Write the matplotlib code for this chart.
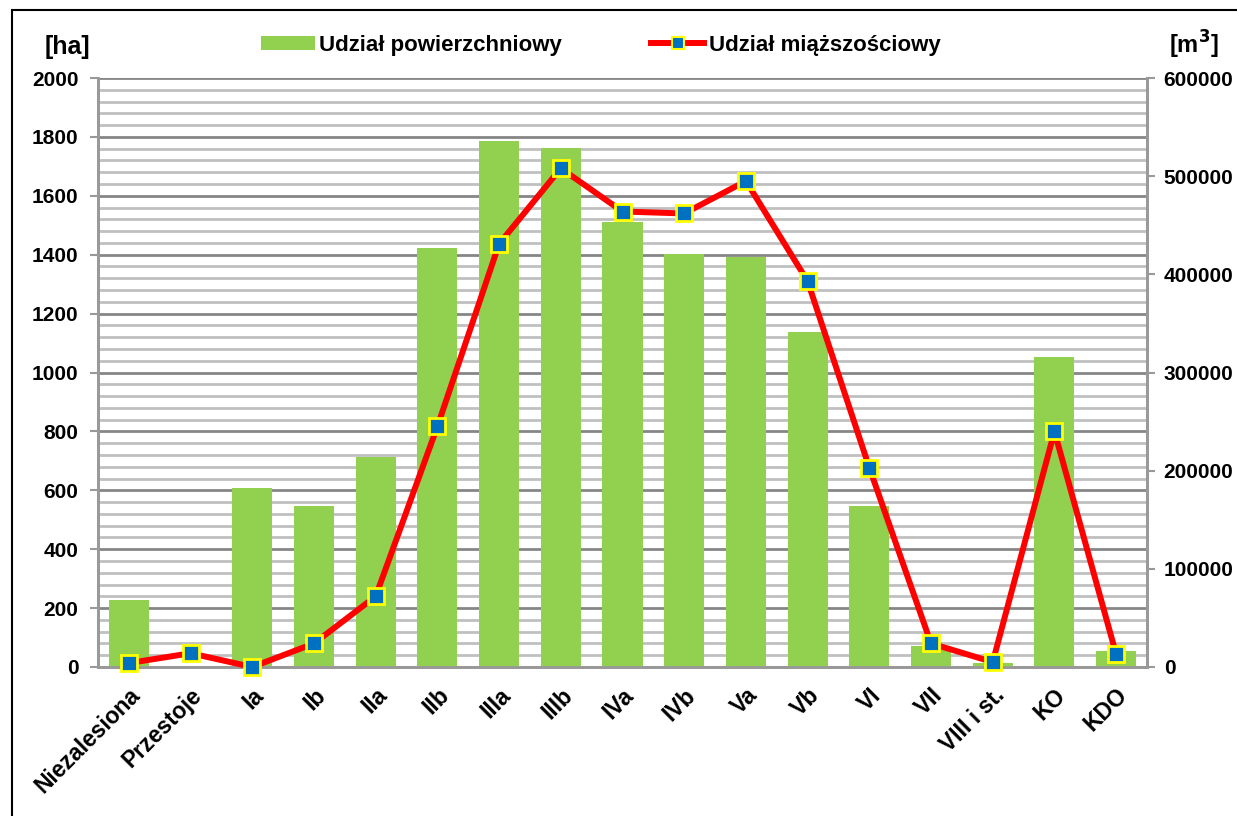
import numpy as np
import matplotlib
matplotlib.use('Agg')
import matplotlib.pyplot as plt
from matplotlib.ticker import MultipleLocator
from matplotlib.lines import Line2D
from matplotlib.patches import Patch, Rectangle

plt.rcParams['font.family'] = ['Liberation Sans', 'DejaVu Sans']
plt.rcParams['font.weight'] = 'bold'

# kategorie (klasy wieku / gospodarcze)
categories = ['Niezalesiona', 'Przestoje', 'Ia', 'Ib', 'IIa', 'IIb', 'IIIa', 'IIIb',
              'IVa', 'IVb', 'Va', 'Vb', 'VI', 'VII', 'VIII i st.', 'KO', 'KDO']
# udzial powierzchniowy [ha]
area_ha = [227, 0, 608, 547, 712, 1423, 1786, 1762, 1510, 1402, 1392, 1138,
           547, 72, 15, 1053, 54]
# udzial miazszosciowy [m3]
volume_m3 = [4000, 14000, 0, 24000, 72000, 245000, 431000, 508000, 464000,
             462000, 495000, 393000, 203000, 24000, 5000, 240000, 13000]

fig = plt.figure(figsize=(12.37, 8.16), dpi=100)
ax = fig.add_axes([98/1237, 1-667/816, (1147-98)/1237, (667-78)/816])
ax2 = ax.twinx()

x = np.arange(len(categories))
ax.bar(x, area_ha, width=0.65, color='#92d050', zorder=3)
ax2.plot(x, volume_m3, color='#ff0000', lw=4.3, marker='s', ms=12,
         markerfacecolor='#0070c0', markeredgecolor='#ffff00', mew=2, zorder=5,
         clip_on=False)

ax.set_xlim(-0.5, len(categories)-0.5)
ax.set_ylim(0, 2000)
ax2.set_ylim(0, 600000)
ax.yaxis.set_major_locator(MultipleLocator(200))
ax.yaxis.set_minor_locator(MultipleLocator(40))
ax2.yaxis.set_major_locator(MultipleLocator(100000))
ax.grid(axis='y', which='minor', color='#c0c0c0', lw=2, zorder=0)
ax.grid(axis='y', which='major', color='#868686', lw=2, zorder=0)
ax.set_axisbelow(True)
ax.tick_params(axis='y', which='minor', length=0)
ax.tick_params(axis='y', which='major', length=6, color='#999999', width=1.5,
               labelsize=15, pad=8)
ax2.tick_params(axis='y', length=6, color='#999999', width=1.5, labelsize=15, pad=6)
ax.set_xticks(x)
ax.set_xticklabels(categories, rotation=45, ha='right', rotation_mode='anchor',
                   fontsize=16.5)
ax.tick_params(axis='x', length=0, pad=12)

for a in (ax, ax2):
    a.spines['top'].set_visible(False)
    for s in ('left', 'right', 'bottom'):
        a.spines[s].set_color('#999999')
        a.spines[s].set_linewidth(2)

fig.text(67/1237, 1-47/816, '[ha]', fontsize=18, ha='center', va='center')
fig.text(1194/1237, 1-45/816, r'[m$^\mathbf{3}$]', fontsize=17, ha='center', va='center')

handles = [Patch(facecolor='#92d050', label='Udział powierzchniowy'),
           Line2D([0], [0], color='#ff0000', lw=4.3, marker='s', ms=8,
                  markerfacecolor='#0070c0', markeredgecolor='#ffff00', mew=1.5,
                  label='Udział miąższościowy')]
fig.legend(handles=handles, loc='center', bbox_to_anchor=(601/1237, 1-45/816),
           ncol=2, frameon=False, fontsize=16, handlelength=2.4, handleheight=0.6,
           handletextpad=0.2, columnspacing=4.0)

fig.patches.append(Rectangle((12/1237, -0.05), 1.1, 1-10/816+0.05,
                             transform=fig.transFigure, fill=False,
                             edgecolor='black', lw=1.5))

fig.savefig('out.png', dpi=100)
